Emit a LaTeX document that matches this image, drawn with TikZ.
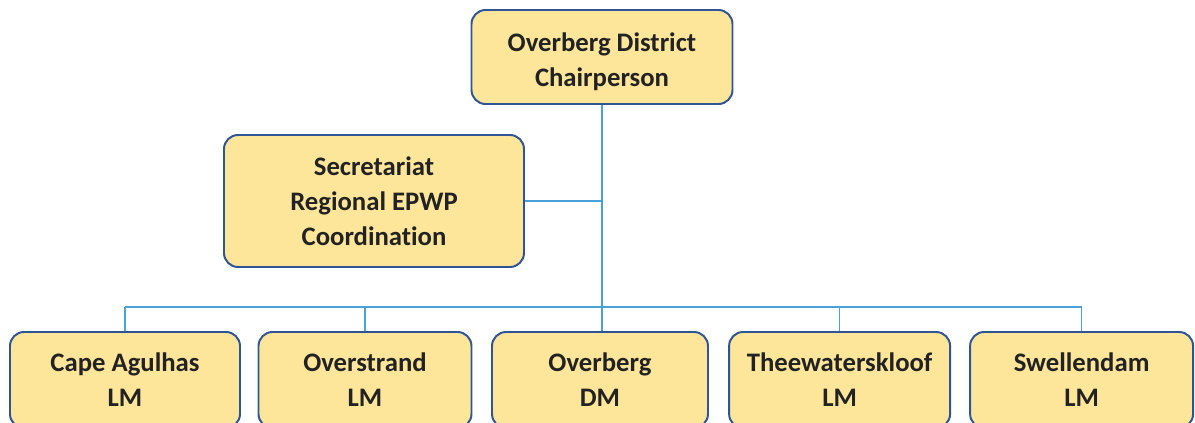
\documentclass[tikz,border=0pt]{standalone}
\usepackage{fontspec}
\setmainfont{Carlito}[Ligatures=NoCommon]
\definecolor{boxfill}{HTML}{FDE59A}
\definecolor{boxline}{HTML}{2F5597}
\definecolor{linkline}{HTML}{4AA0D8}
\definecolor{boxtext}{HTML}{222222}
\tikzset{
  orgbox/.style={draw=boxline, line width=1.4pt, fill=boxfill, rounded corners=10pt,
    align=center, text=boxtext, font=\bfseries\fontsize{19}{24.8}\selectfont,
    inner sep=0pt},
  link/.style={draw=linkline, line width=1pt}
}
\begin{document}
\begin{tikzpicture}
    \useasboundingbox (0,0) rectangle (29.875,-10.575);

    % Top and staff boxes
    \node[orgbox, minimum width=6.525cm, minimum height=2.35cm] (chair) at (15.05,-1.425)
        {\rule{0pt}{20pt}Overberg District\\Chairperson};
    \node[orgbox, minimum width=7.5cm, minimum height=3.3cm] (sec) at (9.35,-5.025)
        {Secretariat\\Regional EPWP\\Coordination};

    % Municipality boxes
    \node[orgbox, minimum width=5.75cm, minimum height=2.4cm] (cape) at (3.125,-9.5) {Cape Agulhas\\LM};
    \node[orgbox, minimum width=5.325cm, minimum height=2.4cm] (over) at (9.125,-9.5) {Overstrand\\LM};
    \node[orgbox, minimum width=5.4cm, minimum height=2.4cm] (odm) at (15.0,-9.5) {Overberg\\DM};
    \node[orgbox, minimum width=5.525cm, minimum height=2.4cm] (thee) at (20.99,-9.5) {Theewaterskloof\\LM};
    \node[orgbox, minimum width=5.575cm, minimum height=2.4cm] (swel) at (27.04,-9.5) {Swellendam\\LM};

    % Connectors
    \coordinate (bar) at (15.05,-7.675);
    \draw[link] (chair.south) -- (chair.south |- odm.north);
    \draw[link] (sec.east) -- (sec.east -| chair.south);
    \draw[link] (cape.north |- bar) -- (swel.north |- bar);
    \foreach \n in {cape,over,thee,swel}
        \draw[link] (\n.north |- bar) -- (\n.north);

\end{tikzpicture}
\end{document}
